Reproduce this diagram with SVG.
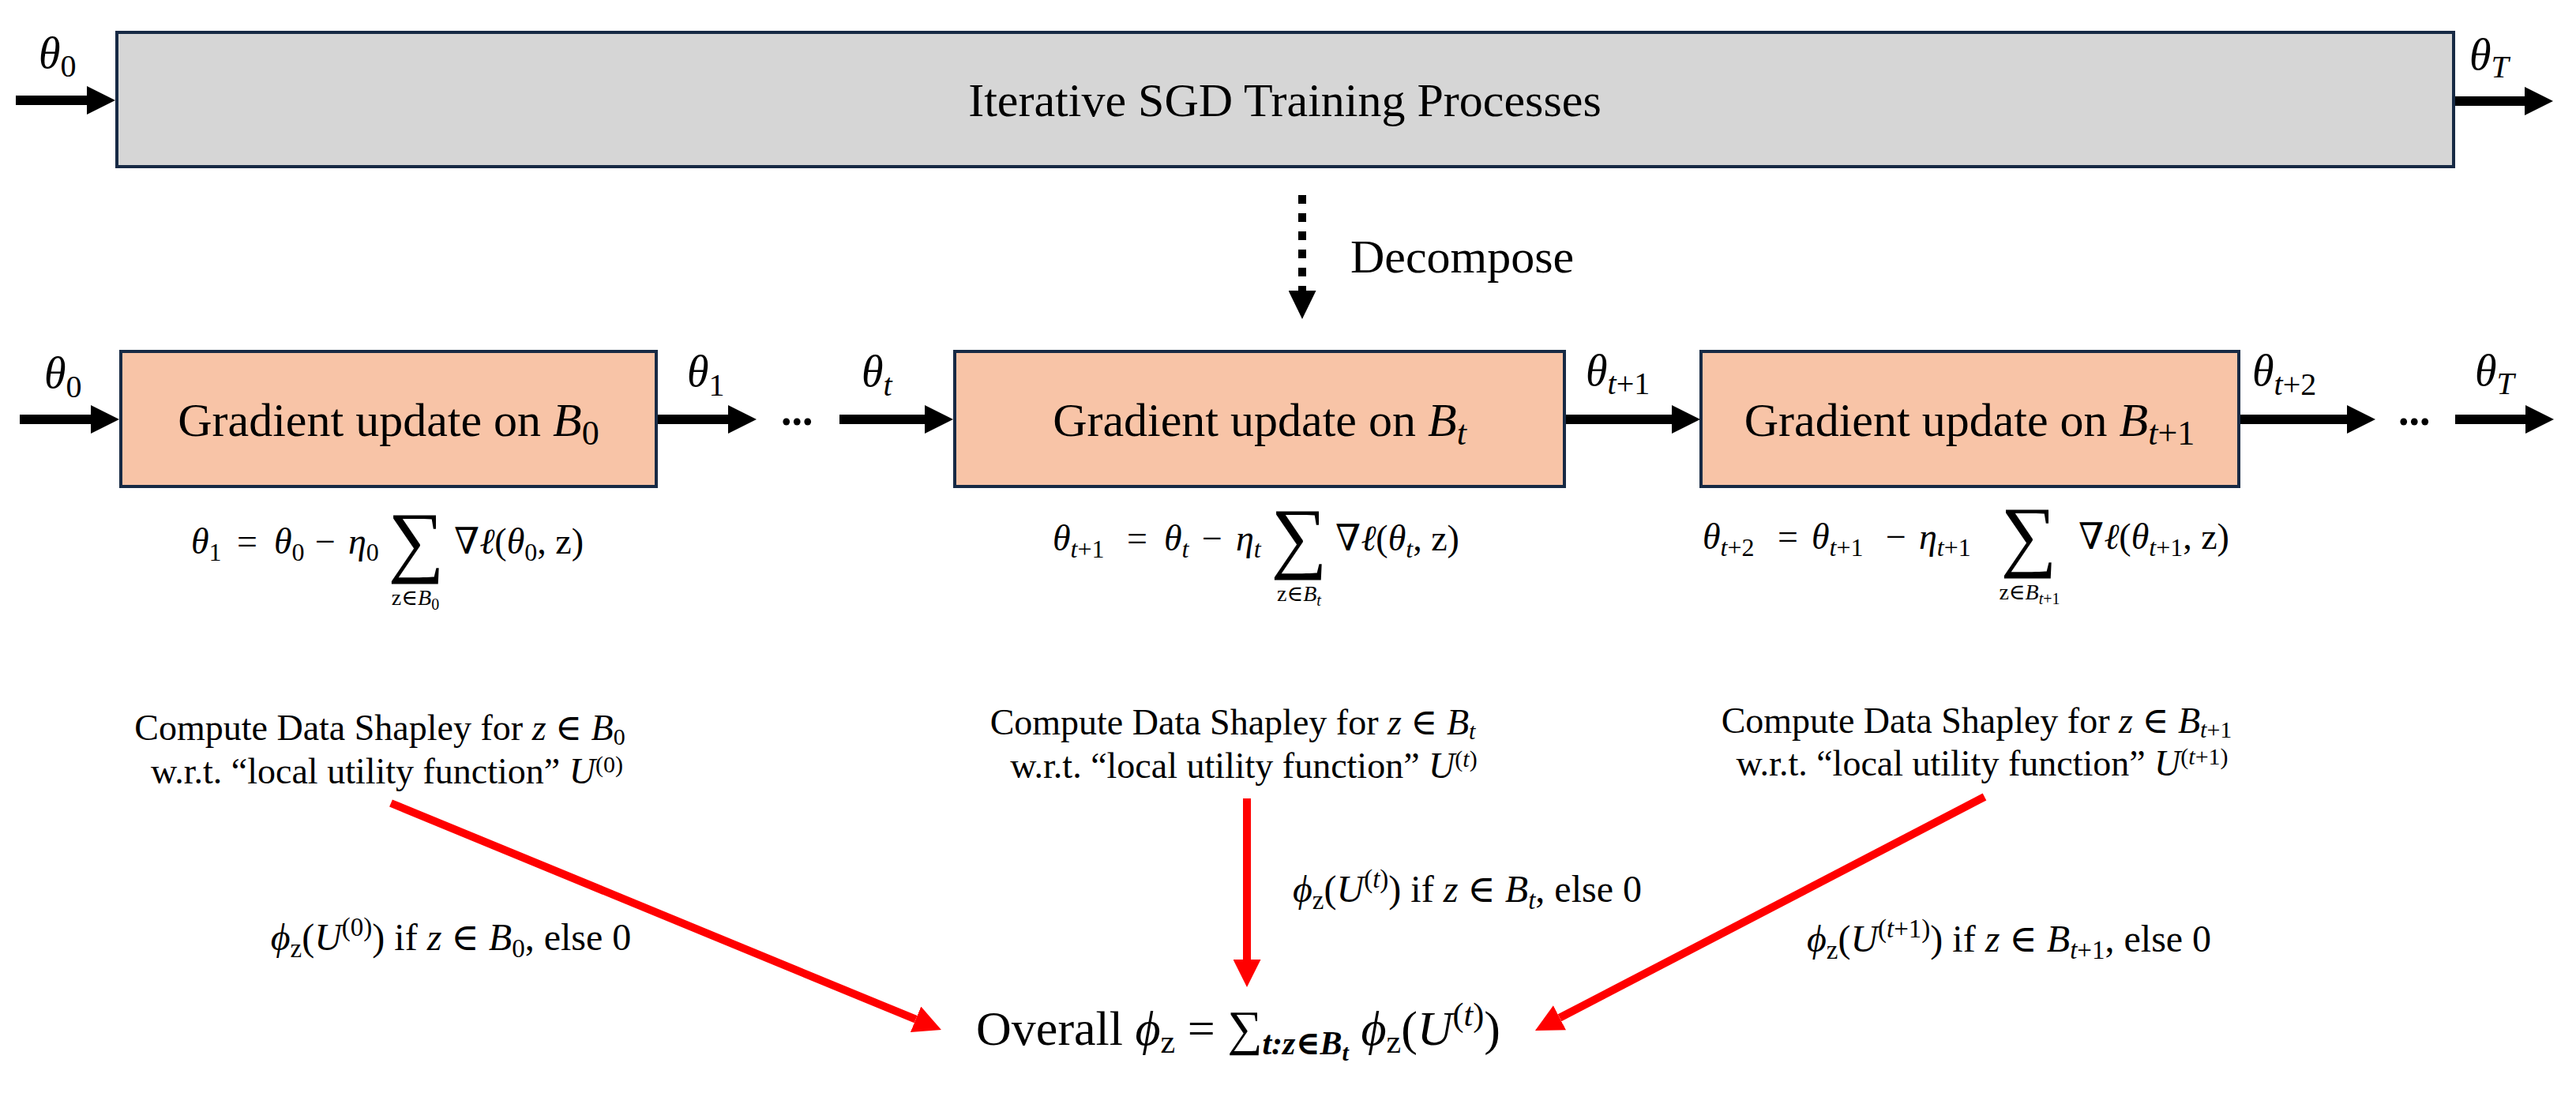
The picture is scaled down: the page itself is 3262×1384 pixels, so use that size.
<svg xmlns="http://www.w3.org/2000/svg" width="3262" height="1384" viewBox="0 0 3262 1384">
<style>
.bg{fill:#ffffff}
.gray{fill:#d6d6d6;stroke:#172a45;stroke-width:4}
.orange{fill:#f8c4a7;stroke:#172a45;stroke-width:4}
text{font-family:"Liberation Serif","DejaVu Serif",serif;fill:#000}
.i{font-style:italic}
.n{font-style:normal}
.b{font-weight:bold}
.arr{stroke:#000;stroke-width:12;fill:none;marker-end:url(#ah)}
.dash{stroke:#000;stroke-width:10;stroke-dasharray:11 12;fill:none;marker-end:url(#dh)}
.red{stroke:#ff0000;stroke-width:10;fill:none;marker-end:url(#rh)}
.title{font-size:60px}
.lbl{font-size:56px}
.f{font-size:46px}
.sum{font-size:100px}
.sub{font-size:28px}
.s{font-size:46px}
.c{font-size:48px}
</style>
<defs>
<marker id="ah" markerUnits="userSpaceOnUse" viewBox="0 0 36 36" markerWidth="36" markerHeight="36" refX="0" refY="18" orient="auto"><path d="M0,0 L36,18 L0,36 Z" fill="#000"/></marker>
<marker id="dh" markerUnits="userSpaceOnUse" viewBox="0 0 36 35" markerWidth="36" markerHeight="35" refX="0" refY="17.5" orient="auto"><path d="M0,0 L36,17.5 L0,35 Z" fill="#000"/></marker>
<marker id="rh" markerUnits="userSpaceOnUse" viewBox="0 0 35 35" markerWidth="35" markerHeight="35" refX="0" refY="17.5" orient="auto"><path d="M0,0 L35,17.5 L0,35 Z" fill="#ff0000"/></marker>
</defs>
<rect class="bg" x="0" y="0" width="3262" height="1384"/>

<g id="training">
<rect class="gray" x="148" y="41" width="2959" height="170"/>
<text class="title" x="1627" y="147" text-anchor="middle">Iterative SGD Training Processes</text>
</g>

<g id="decompose-label">
<text class="title" x="1710" y="345">Decompose</text>
</g>

<g id="update-b0">
<rect class="orange" x="153" y="445" width="678" height="171"/>
<text class="title" x="492" y="552" text-anchor="middle">Gradient update on <tspan class="i">B</tspan><tspan font-size="44" dy="11">0</tspan></text>
</g>

<g id="update-bt">
<rect class="orange" x="1209" y="445" width="772" height="171"/>
<text class="title" x="1595" y="552" text-anchor="middle">Gradient update on <tspan class="i">B</tspan><tspan class="i" font-size="44" dy="11">t</tspan></text>
</g>

<g id="update-bt1">
<rect class="orange" x="2154" y="445" width="681" height="171"/>
<text class="title" x="2494" y="552" text-anchor="middle">Gradient update on <tspan class="i">B</tspan><tspan font-size="44" dy="11"><tspan class="i">t</tspan>+1</tspan></text>
</g>

<g id="theta-labels">
<text class="lbl i" x="49" y="86">θ<tspan class="n" font-size="40" dy="11">0</tspan></text>
<text class="lbl i" x="3127" y="88">θ<tspan font-size="40" dy="10">T</tspan></text>
<text class="lbl i" x="56" y="491">θ<tspan class="n" font-size="40" dy="12">0</tspan></text>
<text class="lbl i" x="870" y="489">θ<tspan class="n" font-size="40" dy="12">1</tspan></text>
<text class="lbl i" x="1091" y="489">θ<tspan font-size="40" dy="12">t</tspan></text>
<text class="lbl i" x="2008" y="488">θ<tspan font-size="40" dy="11">t<tspan class="n">+1</tspan></tspan></text>
<text class="lbl i" x="2852" y="488">θ<tspan font-size="40" dy="12">t<tspan class="n">+2</tspan></tspan></text>
<text class="lbl i" x="3134" y="488">θ<tspan font-size="40" dy="11">T</tspan></text>
<text class="b" font-size="54" x="989" y="538">...</text>
<text class="b" font-size="54" x="3037" y="538">...</text>
</g>

<g id="formula-b0">
<text class="f" y="701"><tspan class="i" x="242">θ</tspan><tspan font-size="32" dy="9">1</tspan><tspan x="300" dy="-9">=</tspan><tspan class="i" x="347">θ</tspan><tspan font-size="32" dy="9">0</tspan><tspan x="399" dy="-9">−</tspan><tspan class="i" x="441">η</tspan><tspan font-size="32" dy="9">0</tspan></text>
<text class="sum" x="527" y="718" text-anchor="middle">∑</text>
<text class="sub" x="526" y="766" text-anchor="middle">z∈<tspan class="i">B</tspan><tspan font-size="20" dy="6">0</tspan></text>
<text class="f" x="575" y="701">∇<tspan class="i">ℓ</tspan>(<tspan class="i">θ</tspan><tspan font-size="32" dy="9">0</tspan><tspan dy="-9">, z)</tspan></text>
</g>

<g id="formula-bt">
<text class="f" y="697"><tspan class="i" x="1333">θ</tspan><tspan font-size="32" dy="9"><tspan class="i">t</tspan>+1</tspan><tspan x="1427" dy="-9">=</tspan><tspan class="i" x="1474">θ</tspan><tspan class="i" font-size="32" dy="9">t</tspan><tspan x="1522" dy="-9">−</tspan><tspan class="i" x="1565">η</tspan><tspan class="i" font-size="32" dy="9">t</tspan></text>
<text class="sum" x="1645" y="713" text-anchor="middle">∑</text>
<text class="sub" x="1645" y="761" text-anchor="middle">z∈<tspan class="i">B</tspan><tspan class="i" font-size="20" dy="6">t</tspan></text>
<text class="f" x="1691" y="697">∇<tspan class="i">ℓ</tspan>(<tspan class="i">θ</tspan><tspan class="i" font-size="32" dy="9">t</tspan><tspan dy="-9">, z)</tspan></text>
</g>

<g id="formula-bt1">
<text class="f" y="695"><tspan class="i" x="2156">θ</tspan><tspan font-size="32" dy="9"><tspan class="i">t</tspan>+2</tspan><tspan x="2251" dy="-9">=</tspan><tspan class="i" x="2294">θ</tspan><tspan font-size="32" dy="9"><tspan class="i">t</tspan>+1</tspan><tspan x="2388" dy="-9">−</tspan><tspan class="i" x="2430">η</tspan><tspan font-size="32" dy="9"><tspan class="i">t</tspan>+1</tspan></text>
<text class="sum" x="2569" y="711" text-anchor="middle">∑</text>
<text class="sub" x="2570" y="759" text-anchor="middle">z∈<tspan class="i">B</tspan><tspan font-size="20" dy="6"><tspan class="i">t</tspan>+1</tspan></text>
<text class="f" x="2632" y="695">∇<tspan class="i">ℓ</tspan>(<tspan class="i">θ</tspan><tspan font-size="32" dy="9"><tspan class="i">t</tspan>+1</tspan><tspan dy="-9">, z)</tspan></text>
</g>

<g id="shapley-b0">
<text class="s" x="481" y="937" text-anchor="middle">Compute Data Shapley for <tspan class="i">z</tspan> ∈ <tspan class="i">B</tspan><tspan font-size="30" dy="6">0</tspan></text>
<text class="s" x="490" y="992" text-anchor="middle">w.r.t. “local utility function” <tspan class="i">U</tspan><tspan font-size="30" dy="-14">(0)</tspan></text>
</g>

<g id="shapley-bt">
<text class="s" x="1561" y="930" text-anchor="middle">Compute Data Shapley for <tspan class="i">z</tspan> ∈ <tspan class="i">B</tspan><tspan class="i" font-size="30" dy="6">t</tspan></text>
<text class="s" x="1575" y="985" text-anchor="middle">w.r.t. “local utility function” <tspan class="i">U</tspan><tspan font-size="30" dy="-14">(<tspan class="i">t</tspan>)</tspan></text>
</g>

<g id="shapley-bt1">
<text class="s" x="2503" y="928" text-anchor="middle">Compute Data Shapley for <tspan class="i">z</tspan> ∈ <tspan class="i">B</tspan><tspan font-size="30" dy="6"><tspan class="i">t</tspan>+1</tspan></text>
<text class="s" x="2510" y="982" text-anchor="middle">w.r.t. “local utility function” <tspan class="i">U</tspan><tspan font-size="30" dy="-14">(<tspan class="i">t</tspan>+1)</tspan></text>
</g>

<g id="overall">
<text font-size="62" x="1568" y="1323" text-anchor="middle">Overall <tspan class="i">ϕ</tspan><tspan font-size="42" dy="10">z</tspan><tspan dy="-10"> = ∑</tspan><tspan class="b i" font-size="42" dy="12">t:z∈B<tspan font-size="30" dy="8">t</tspan></tspan><tspan dy="-20"> </tspan><tspan class="i">ϕ</tspan><tspan font-size="42" dy="10">z</tspan><tspan dy="-10">(</tspan><tspan class="i">U</tspan><tspan font-size="42" dy="-24">(<tspan class="i">t</tspan>)</tspan><tspan dy="24">)</tspan></text>
</g>

<g id="connector-labels">
<text class="c" x="571" y="1203" text-anchor="middle"><tspan class="i">ϕ</tspan><tspan font-size="33" dy="9">z</tspan><tspan dy="-9">(</tspan><tspan class="i">U</tspan><tspan font-size="33" dy="-18">(0)</tspan><tspan dy="18">) if </tspan><tspan class="i">z</tspan> ∈ <tspan class="i">B</tspan><tspan font-size="33" dy="9">0</tspan><tspan dy="-9">, else 0</tspan></text>
<text class="c" x="1858" y="1142" text-anchor="middle"><tspan class="i">ϕ</tspan><tspan font-size="33" dy="9">z</tspan><tspan dy="-9">(</tspan><tspan class="i">U</tspan><tspan font-size="33" dy="-18">(<tspan class="i">t</tspan>)</tspan><tspan dy="18">) if </tspan><tspan class="i">z</tspan> ∈ <tspan class="i">B</tspan><tspan class="i" font-size="33" dy="9">t</tspan><tspan dy="-9">, else 0</tspan></text>
<text class="c" x="2544" y="1205" text-anchor="middle"><tspan class="i">ϕ</tspan><tspan font-size="33" dy="9">z</tspan><tspan dy="-9">(</tspan><tspan class="i">U</tspan><tspan font-size="33" dy="-18">(<tspan class="i">t</tspan>+1)</tspan><tspan dy="18">) if </tspan><tspan class="i">z</tspan> ∈ <tspan class="i">B</tspan><tspan font-size="33" dy="9"><tspan class="i">t</tspan>+1</tspan><tspan dy="-9">, else 0</tspan></text>
</g>

<g id="connectors">
<line class="arr" x1="20" y1="127" x2="110" y2="127"/>
<line class="arr" x1="3109" y1="128" x2="3197" y2="128"/>
<line class="dash" x1="1649" y1="247" x2="1649" y2="368"/>
<line class="arr" x1="25" y1="531" x2="115" y2="531"/>
<line class="arr" x1="833" y1="531" x2="922" y2="531"/>
<line class="arr" x1="1063" y1="531" x2="1171" y2="531"/>
<line class="arr" x1="1983" y1="531" x2="2117" y2="531"/>
<line class="arr" x1="2837" y1="531" x2="2972" y2="531"/>
<line class="arr" x1="3109" y1="531" x2="3198" y2="531"/>
<line class="red" x1="495" y1="1017" x2="1159.6" y2="1290.7"/>
<line class="red" x1="1579" y1="1011" x2="1579" y2="1215"/>
<line class="red" x1="2513" y1="1009" x2="1975" y2="1288.8"/>
</g>
</svg>
